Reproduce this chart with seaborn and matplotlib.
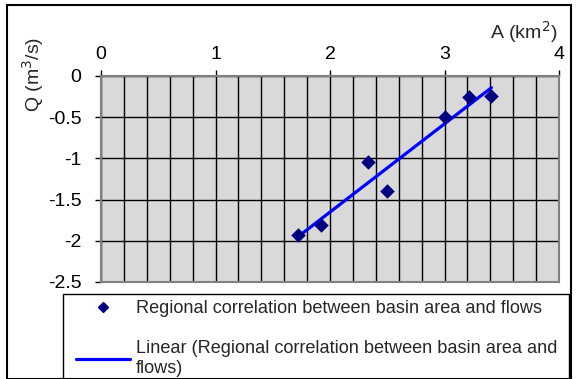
import matplotlib
matplotlib.use("Agg")
import matplotlib.pyplot as plt
import seaborn as sns
import numpy as np
import pandas as pd
from matplotlib.ticker import MultipleLocator
from matplotlib.patches import Rectangle
from matplotlib.lines import Line2D

# Data
area_km2 = [1.72, 1.92, 2.33, 2.50, 3.00, 3.21, 3.41]
flow_m3s = [-1.93, -1.81, -1.04, -1.40, -0.50, -0.26, -0.24]
x_ticks = [0, 1, 2, 3, 4]
y_ticks = [0, -0.5, -1, -1.5, -2, -2.5]
series_label = "Regional correlation between basin area and flows"
trend_label = "Linear (Regional correlation between basin area and\nflows)"

df = pd.DataFrame({"A": area_km2, "Q": flow_m3s})

sns.set_theme(style="white")
plt.rcParams['font.family'] = ['Liberation Sans', 'DejaVu Sans']

W, H = 576, 379
fig = plt.figure(figsize=(W / 100, H / 100), dpi=100)
ax = fig.add_axes([101 / W, 1 - 282 / H, (559 - 101) / W, (282 - 76) / H])
ax.set_facecolor("#d9d9d9")

sns.regplot(data=df, x="A", y="Q", ax=ax, ci=None, scatter=False,
            line_kws=dict(color="#0000ff", lw=2.3, zorder=4))
sns.scatterplot(data=df, x="A", y="Q", ax=ax, marker="D", color="#000080",
                s=55, edgecolor="#000080", linewidth=0, zorder=5)

ax.set_xlim(0, 4)
ax.set_ylim(-2.5, 0)
ax.set_xticks(x_ticks)
ax.set_yticks(y_ticks)
ax.set_xticklabels([str(v) for v in x_ticks])
ax.set_yticklabels([f"{v:g}" for v in y_ticks])
ax.xaxis.set_minor_locator(MultipleLocator(0.2))
ax.xaxis.tick_top()
ax.tick_params(axis="x", which="major", top=True, bottom=False, direction="out",
               length=4, width=1, color="black", pad=5.5, labelsize=14, labelcolor="black")
ax.tick_params(axis="x", which="minor", top=False, bottom=False)
ax.tick_params(axis="y", which="major", left=True, direction="out",
               length=4.5, width=1, color="black", pad=9.5, labelsize=14, labelcolor="black")
ax.grid(True, axis="x", which="both", color="black", lw=1.0)
ax.grid(True, axis="y", which="major", color="black", lw=1.0)
ax.set_axisbelow(True)
for s in ax.spines.values():
    s.set_color("#808080")
    s.set_linewidth(1.5)
ax.set_xlabel("")
ax.set_ylabel("")

fig.text(558 / W, 1 - 32 / H, "A (km$^2$)", ha="right", va="center", fontsize=14)
fig.text(33 / W, 1 - 74 / H, "Q (m$^3$/s)", ha="center", va="center",
         rotation=90, fontsize=14)

handles = [
    Line2D([], [], ls="none", marker="D", color="#000080", markersize=5.5),
    Line2D([], [], color="#0000ff", lw=2.3),
]
leg = fig.legend(handles, [series_label, trend_label], loc="upper left",
                 bbox_to_anchor=(70 / W, 1 - 294 / H), fontsize=13.1,
                 frameon=False, borderpad=0.35, labelspacing=1.25,
                 handlelength=2.95, handletextpad=0.3, borderaxespad=0)

# legend frame (box around the legend, running off the bottom edge)
fig.patches.append(Rectangle((63 / W, -0.02), (569 - 63) / W, (1 - 294 / H) + 0.02,
                             transform=fig.transFigure, fill=False,
                             edgecolor="black", lw=1.0))
# outer chart border
fig.patches.append(Rectangle((7 / W, 0), (571 - 7) / W, 1 - 5 / H,
                             transform=fig.transFigure, fill=False,
                             edgecolor="black", lw=1.5))

fig.savefig("out.png", dpi=100)
